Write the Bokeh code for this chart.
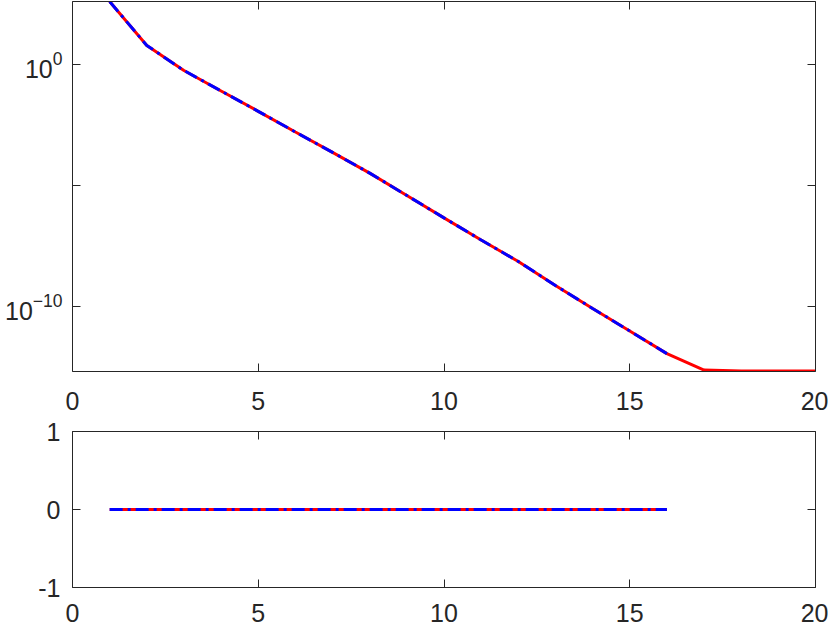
from bokeh.plotting import figure
from bokeh.models import FixedTicker, LinearAxis, LogAxis, Range1d, CustomJSTickFormatter
from bokeh.layouts import column
from bokeh.embed import file_html
from bokeh.resources import INLINE

# ---- data ----
x_red = [1, 2, 3, 4, 5, 6, 7, 8, 9, 10, 11, 12, 13, 14, 15, 16, 17, 18, 19, 20]
y_red = [4.0e2, 6.1, 0.56, 8.0e-2, 1.15e-2, 1.6e-3, 2.3e-4, 3.2e-5, 3.8e-6, 4.5e-7,
         5.5e-8, 7.1e-9, 7.2e-10, 8.1e-11, 9.5e-12, 1.1e-12, 2.3e-13, 2.1e-13, 2.1e-13, 2.1e-13]
x_blue = [1, 2, 3, 4, 5, 6, 7, 8, 9, 10, 11, 12, 13, 14, 15, 16]
y_blue = [4.0e2, 6.1, 0.56, 8.0e-2, 1.15e-2, 1.6e-3, 2.3e-4, 3.2e-5, 3.8e-6, 4.5e-7,
          5.5e-8, 7.1e-9, 7.2e-10, 8.1e-11, 9.5e-12, 1.1e-12]
x_diff = [1, 2, 3, 4, 5, 6, 7, 8, 9, 10, 11, 12, 13, 14, 15, 16]
d_red = [0, 0, 0, 0, 0, 0, 0, 0, 0, 0, 0, 0, 0, 0, 0, 0]
d_blue = [0, 0, 0, 0, 0, 0, 0, 0, 0, 0, 0, 0, 0, 0, 0, 0]

x_ticks = [0, 5, 10, 15, 20]
top_y_ticks = [1e-10, 1.0]
top_y_minor = [1e-5]
bot_y_ticks = [-1, 0, 1]
bot_y_labels = ["-1", "0", "1"]

AX = "#262626"
FONT = "Liberation Sans"
FS = "25px"


def style(ax, labels=True, standoff=12):
    ax.axis_line_color = AX
    ax.axis_line_width = 1
    ax.major_tick_line_color = AX
    ax.minor_tick_line_color = AX
    ax.major_tick_in = 8
    ax.major_tick_out = 0
    ax.minor_tick_in = 8
    ax.minor_tick_out = 0
    ax.major_label_text_font = FONT
    ax.major_label_text_color = AX
    if labels:
        ax.major_label_text_font_size = FS
        ax.major_label_standoff = standoff
    else:
        ax.formatter = CustomJSTickFormatter(code="return '';")
        ax.major_label_text_font_size = "1px"
        ax.major_label_standoff = 0


def box_axes(p, ylog, yticks, yminor):
    top_ax = LinearAxis(ticker=FixedTicker(ticks=x_ticks))
    style(top_ax, False)
    p.add_layout(top_ax, "above")
    if ylog:
        right_ax = LogAxis(ticker=FixedTicker(ticks=yticks, minor_ticks=yminor))
    else:
        right_ax = LinearAxis(ticker=FixedTicker(ticks=yticks, minor_ticks=yminor))
    style(right_ax, False)
    p.add_layout(right_ax, "right")


# ---- top panel ----
p1 = figure(width=828, height=415, y_axis_type="log",
            x_range=Range1d(0, 20), y_range=Range1d(2.0e-13, 4.0e2),
            output_backend="svg", toolbar_location=None,
            min_border_left=72, min_border_right=13,
            min_border_top=1, min_border_bottom=44)
p1.grid.visible = False
p1.outline_line_color = None
p1.background_fill_color = "white"
p1.border_fill_color = "white"

p1.line(x_red, y_red, line_color="#ff0000", line_width=3)
p1.line(x_blue, y_blue, line_color="#0000ff", line_width=3, line_dash="13 5 3 5")

p1.xaxis.ticker = FixedTicker(ticks=x_ticks)
p1.yaxis.ticker = FixedTicker(ticks=top_y_ticks, minor_ticks=top_y_minor)
style(p1.xaxis[0], True, 20)
style(p1.yaxis[0], True, 10)
box_axes(p1, True, top_y_ticks, top_y_minor)

# ---- bottom panel ----
p2 = figure(width=828, height=216,
            x_range=Range1d(0, 20), y_range=Range1d(-1, 1),
            output_backend="svg", toolbar_location=None,
            min_border_left=72, min_border_right=13,
            min_border_top=16, min_border_bottom=44)
p2.grid.visible = False
p2.outline_line_color = None
p2.background_fill_color = "white"
p2.border_fill_color = "white"

p2.line(x_diff, d_red, line_color="#ff0000", line_width=3)
p2.line(x_diff, d_blue, line_color="#0000ff", line_width=3, line_dash="13 5 3 5")

p2.xaxis.ticker = FixedTicker(ticks=x_ticks)
p2.yaxis.ticker = FixedTicker(ticks=bot_y_ticks)
p2.yaxis.major_label_overrides = dict(zip(bot_y_ticks, bot_y_labels))
style(p2.xaxis[0], True, 16)
style(p2.yaxis[0], True, 12)
box_axes(p2, False, bot_y_ticks, [])

layout = column(p1, p2, spacing=0)

open("out.html", "w").write(file_html(layout, INLINE))
